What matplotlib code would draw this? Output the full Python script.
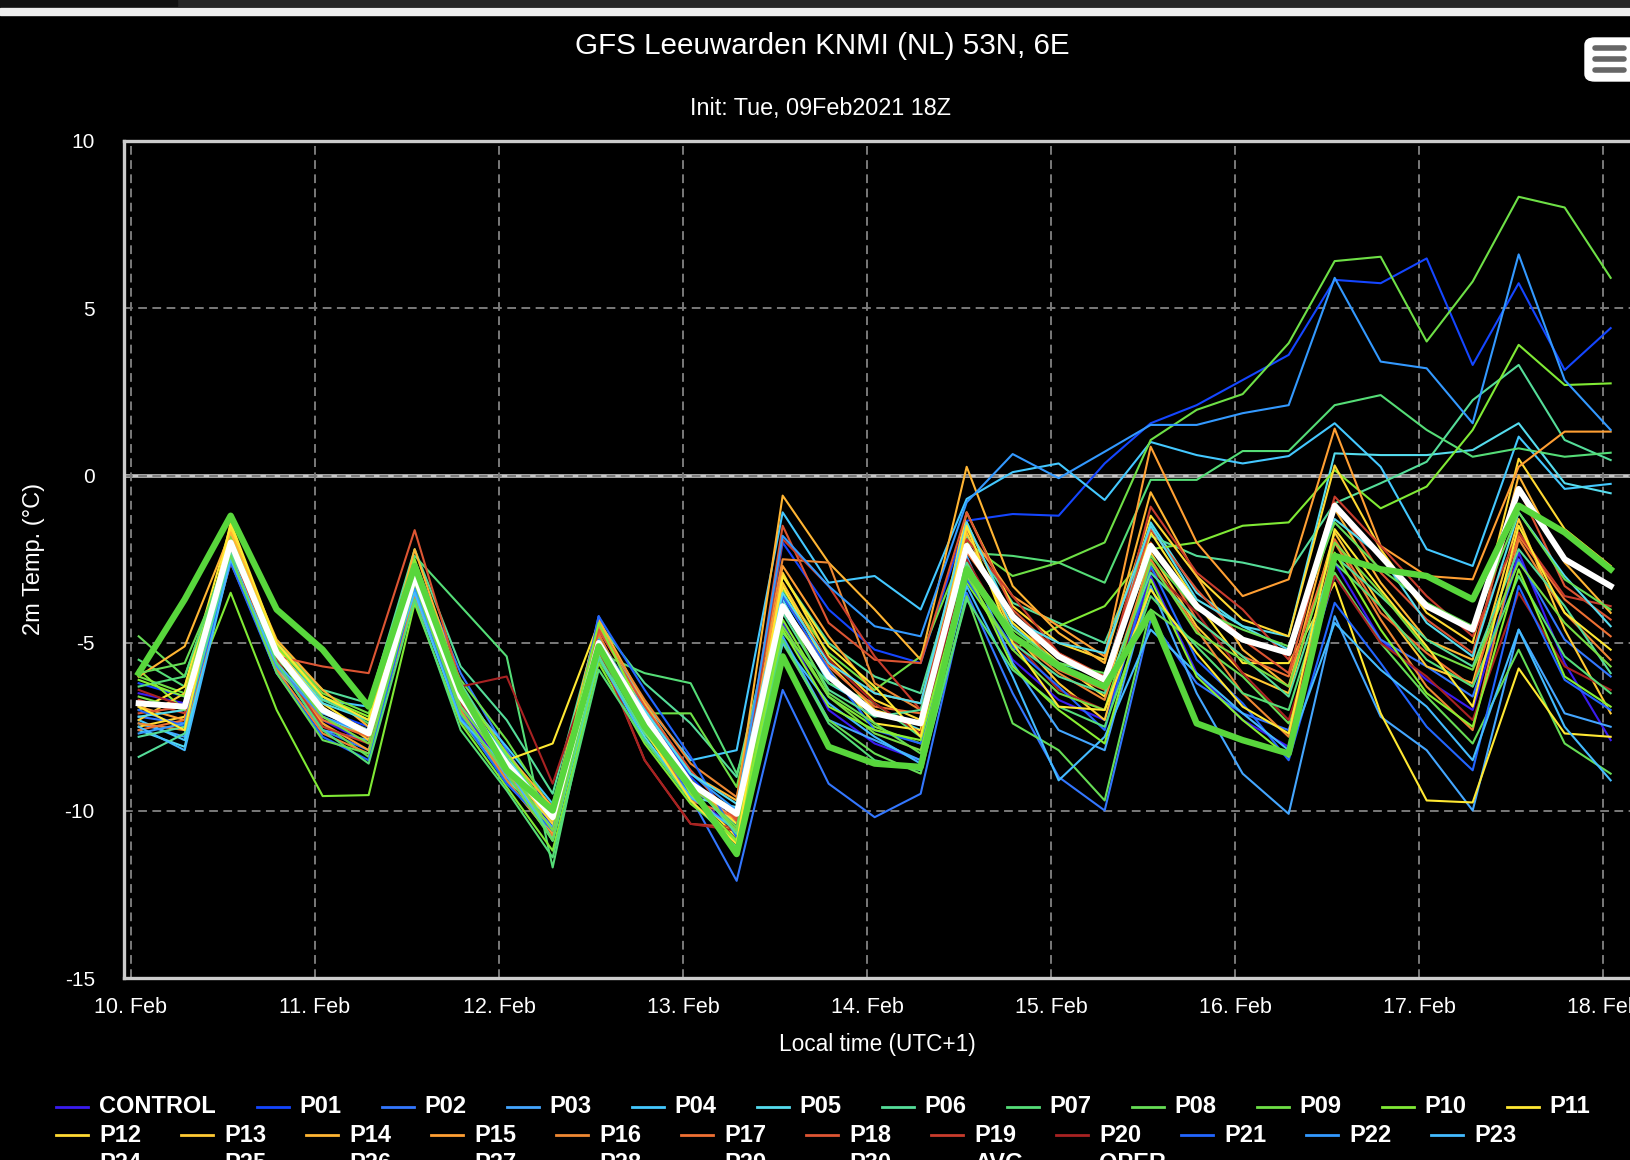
import numpy as np
import pandas as pd
import matplotlib
matplotlib.use("Agg")
import matplotlib.pyplot as plt
import matplotlib.dates as mdates
from matplotlib.lines import Line2D
from matplotlib.patches import Rectangle, FancyBboxPatch

# 6-hourly GFS ensemble steps, local time (UTC+1)
times = pd.date_range("2021-02-10 01:00", periods=33, freq="6h")

names = ["CONTROL"] + ["P%02d" % k for k in range(1, 31)]

CONTROL = [-6.5, -6.8, -2.3, -5.6, -7.3, -8.0, -3.2, -6.9, -8.9, -10.4, -4.8, -7.4, -9.5, -10.6, -4.4, -7.0, -8.0,
           -8.5, -2.9, -5.5, -6.7, -7.3, -3.0, -5.9, -7.3, -8.1, -2.6, -4.9, -6.1, -7.0, -2.3, -5.6, -7.9]
P01 = [-6.2, -6.6, -2.1, -5.4, -7.0, -7.5, -2.9, -6.5, -8.4, -10.0, -4.5, -7.0, -9.0, -10.4, -2.0, -4.0, -5.2,
       -5.6, -1.35, -1.15, -1.2, 0.36, 1.56, 2.1, 2.85, 3.6, 5.84, 5.74, 6.48, 3.3, 5.74, 3.15, 4.4]
P02 = [-7.2, -7.4, -2.5, -5.9, -7.6, -8.2, -2.6, -5.9, -8.2, -10.2, -4.2, -7.5, -9.6, -12.1, -6.4, -9.2, -10.2,
       -9.5, -3.5, -6.5, -9.0, -10.0, -4.3, -6.2, -7.1, -7.6, -3.0, -4.9, -5.7, -6.6, -2.5, -4.9, -6.0]
P03 = [-7.4, -7.8, -2.4, -5.6, -7.6, -7.9, -3.3, -7.0, -9.0, -10.5, -4.9, -7.6, -9.3, -10.4, -4.8, -7.3, -7.9,
       -8.5, -2.4, -5.6, -7.6, -8.2, -3.3, -6.5, -8.9, -10.1, -4.2, -7.2, -8.2, -10.0, -4.6, -7.1, -7.5]
P04 = [-7.3, -7.9, -2.2, -5.2, -6.7, -6.9, -3.4, -6.5, -8.1, -9.8, -4.6, -6.8, -8.5, -8.2, -1.1, -3.2, -3.0,
       -4.0, -0.7, 0.1, 0.36, -0.73, 1.0, 0.61, 0.36, 0.58, 1.56, 0.26, -2.2, -2.7, 1.16, -0.4, -0.25]
P05 = [-7.6, -8.1, -2.3, -5.8, -7.2, -7.8, -3.6, -7.2, -9.1, -10.3, -5.3, -7.8, -9.6, -9.9, -3.7, -6.2, -7.0,
       -7.6, -2.0, -4.5, -5.6, -6.0, -1.4, -3.5, -4.5, -4.8, 0.66, 0.61, 0.61, 0.76, 1.56, -0.23, -0.53]
P06 = [-8.4, -7.7, -2.2, -5.0, -6.4, -6.8, -2.2, -5.7, -7.3, -9.5, -4.4, -6.2, -7.4, -9.0, -3.0, -5.0, -6.0,
       -6.5, -1.8, -3.8, -4.4, -5.0, -1.8, -2.4, -2.6, -2.9, -0.83, -0.23, 0.41, 2.25, 3.3, 1.06, 0.46]
P07 = [-5.5, -6.3, -1.9, -5.5, -6.6, -7.4, -2.4, -3.9, -5.4, -11.7, -5.3, -5.9, -6.2, -8.9, -4.7, -6.2, -6.8,
       -7.8, -2.3, -2.4, -2.6, -3.2, -0.13, -0.13, 0.73, 0.73, 2.1, 2.4, 1.36, 0.56, 0.81, 0.56, 0.68]
P08 = [-4.8, -6.0, -2.1, -5.3, -7.4, -8.4, -3.4, -7.3, -9.1, -10.8, -5.5, -7.7, -9.4, -11.0, -5.0, -7.3, -8.3,
       -8.9, -3.6, -7.4, -8.2, -9.7, -4.0, -5.0, -6.0, -7.4, -2.9, -5.0, -6.6, -8.0, -5.2, -8.0, -8.9]
P09 = [-6.0, -6.5, -1.8, -5.0, -6.5, -7.1, -3.1, -6.1, -7.9, -10.0, -4.8, -7.1, -7.1, -9.3, -3.4, -5.3, -6.4,
       -5.4, -2.0, -3.0, -2.6, -2.0, 1.06, 1.96, 2.43, 3.95, 6.4, 6.53, 4.0, 5.79, 8.32, 8.0, 5.9]
P10 = [-5.8, -7.0, -3.5, -7.0, -9.57, -9.54, -3.82, -7.4, -9.3, -11.2, -5.6, -8.0, -9.8, -10.9, -4.3, -6.6, -7.5,
       -8.0, -3.2, -5.2, -4.5, -3.9, -2.2, -2.0, -1.5, -1.4, 0.16, -0.98, -0.33, 1.36, 3.9, 2.7, 2.75]
P11 = [-7.0, -6.3, -1.5, -5.2, -6.8, -7.7, -2.9, -6.9, -8.5, -8.0, -4.4, -7.1, -9.1, -10.4, -3.3, -5.8, -7.4,
       -7.6, -1.4, -4.4, -5.6, -6.6, -1.7, -3.8, -5.6, -5.6, -3.2, -7.1, -9.7, -9.76, -5.76, -7.7, -7.8]
P12 = [-7.5, -7.2, -1.6, -5.1, -7.0, -7.6, -2.6, -6.6, -8.7, -10.4, -5.3, -7.2, -9.4, -10.8, -2.9, -5.4, -6.7,
       -7.3, -1.1, -3.9, -5.0, -5.5, -1.2, -3.0, -4.3, -4.8, 0.3, -2.2, -4.1, -5.0, 0.5, -1.6, -2.7]
P13 = [-7.3, -6.5, -2.2, -5.4, -6.9, -7.9, -3.0, -6.8, -8.8, -10.6, -4.9, -7.3, -9.2, -10.0, -3.2, -5.6, -7.0,
       -7.4, -1.7, -4.7, -6.2, -7.3, -2.3, -4.5, -5.9, -6.5, -1.7, -3.9, -5.7, -6.2, -1.3, -4.6, -7.1]
P14 = [-6.0, -5.1, -1.7, -4.9, -6.4, -7.5, -2.2, -6.3, -8.3, -9.9, -4.3, -6.8, -8.9, -9.7, -0.6, -2.6, -4.0,
       -5.5, 0.26, -3.3, -4.7, -5.6, -0.5, -3.0, -5.2, -6.3, -1.0, -3.2, -4.9, -5.5, 0.0, -2.6, -4.1]
P15 = [-6.9, -7.3, -2.1, -5.7, -7.4, -8.2, -3.5, -7.1, -8.9, -10.7, -5.0, -7.4, -9.3, -10.3, -2.7, -4.8, -6.5,
       -6.8, -1.6, -3.6, -4.5, -5.4, 0.86, -2.0, -3.6, -3.1, 1.4, -2.1, -3.0, -3.1, 0.26, 1.31, 1.31]
P16 = [-7.4, -7.6, -2.6, -5.8, -7.7, -8.3, -3.6, -7.0, -9.1, -10.8, -4.5, -6.7, -8.6, -9.6, -2.5, -2.6, -6.2,
       -7.0, -2.6, -4.8, -5.9, -6.7, -2.5, -4.6, -6.5, -7.8, -2.0, -4.3, -6.3, -7.6, -1.9, -4.1, -5.5]
P17 = [-7.6, -7.3, -2.0, -5.6, -7.3, -7.8, -2.7, -6.6, -8.8, -10.1, -4.7, -7.5, -9.7, -10.2, -3.9, -5.7, -6.9,
       -7.1, -2.3, -4.1, -5.8, -6.4, -2.0, -4.3, -5.4, -6.0, -1.9, -4.1, -5.3, -6.3, -1.8, -3.7, -4.8]
P18 = [-7.1, -6.9, -1.9, -5.4, -5.7, -5.9, -1.63, -6.2, -8.7, -10.0, -4.6, -6.9, -8.8, -10.3, -1.5, -4.4, -5.5,
       -5.6, -1.1, -4.0, -5.3, -6.0, -1.6, -3.4, -4.9, -5.9, -0.8, -2.9, -4.3, -5.3, -0.4, -3.3, -4.3]
P19 = [-6.7, -7.1, -2.2, -5.5, -7.5, -8.0, -3.1, -6.8, -8.6, -10.3, -5.2, -8.5, -10.4, -10.5, -1.9, -3.3, -5.4,
       -7.0, -1.9, -3.6, -5.3, -6.2, -0.93, -2.9, -4.0, -5.5, -0.63, -2.1, -3.6, -4.8, -1.7, -3.6, -3.9]
P20 = [-6.4, -6.9, -2.0, -5.3, -7.1, -7.6, -3.0, -6.3, -6.0, -9.2, -5.1, -8.5, -10.4, -10.6, -3.6, -5.5, -6.8,
       -7.7, -2.5, -4.9, -6.4, -7.0, -2.8, -4.1, -5.9, -7.3, -3.0, -5.0, -6.0, -7.3, -3.5, -5.7, -6.4]
P21 = [-7.0, -7.5, -2.6, -5.9, -7.8, -8.5, -3.3, -7.2, -9.2, -10.6, -4.2, -6.4, -8.4, -10.8, -3.6, -5.8, -7.6,
       -8.0, -3.1, -5.1, -6.3, -7.6, -2.7, -5.5, -6.8, -8.5, -3.8, -5.6, -7.5, -8.8, -3.3, -6.1, -7.0]
P22 = [-7.7, -7.4, -2.4, -5.7, -7.2, -7.7, -3.4, -6.9, -8.5, -10.0, -4.9, -7.0, -8.9, -10.0, -1.8, -3.3, -4.5,
       -4.8, -0.8, 0.64, -0.08, 0.71, 1.51, 1.51, 1.86, 2.1, 5.9, 3.4, 3.2, 1.56, 6.6, 2.85, 1.36]
P23 = [-7.5, -8.2, -2.5, -5.6, -7.1, -7.6, -3.5, -7.3, -8.7, -10.9, -5.4, -7.9, -9.6, -10.6, -5.0, -6.8, -7.8,
       -8.6, -3.3, -6.0, -9.1, -7.8, -4.6, -5.9, -7.1, -8.2, -4.4, -5.8, -6.9, -8.5, -4.6, -7.5, -9.1]
P24 = [-7.2, -7.0, -2.1, -5.3, -6.8, -7.3, -3.0, -6.6, -8.4, -10.2, -5.0, -7.0, -8.9, -9.8, -3.5, -5.6, -6.5,
       -6.8, -1.4, -4.3, -5.0, -5.3, -1.5, -3.7, -4.5, -5.2, -1.3, -2.4, -4.4, -5.4, -1.1, -3.0, -4.5]
P25 = [-7.8, -7.5, -2.3, -5.0, -6.7, -7.3, -2.8, -6.2, -8.4, -10.9, -5.4, -7.7, -9.1, -10.7, -4.1, -6.4, -7.2,
       -7.0, -2.6, -5.0, -6.0, -6.5, -2.9, -4.3, -5.4, -6.6, -2.4, -3.6, -4.9, -5.7, -2.2, -3.9, -5.9]
P26 = [-6.3, -6.0, -2.0, -5.6, -7.6, -8.6, -3.7, -7.6, -9.4, -11.4, -5.8, -7.9, -9.7, -11.1, -4.9, -7.4, -8.5,
       -8.8, -3.7, -5.8, -6.9, -7.5, -3.6, -5.1, -6.5, -7.0, -2.6, -3.9, -5.5, -6.3, -3.0, -5.4, -6.5]
P27 = [-5.9, -5.6, -2.4, -5.9, -7.9, -8.3, -3.2, -7.1, -8.9, -10.9, -5.1, -7.5, -9.2, -10.5, -3.9, -6.5, -7.4,
       -8.3, -2.7, -4.6, -5.6, -5.9, -2.4, -4.0, -4.6, -5.1, -1.4, -2.8, -3.8, -4.5, -1.1, -3.1, -4.0]
P28 = [-6.6, -7.0, -2.1, -5.4, -7.2, -8.0, -3.2, -6.9, -8.7, -10.6, -5.0, -7.4, -9.1, -10.6, -4.5, -6.6, -7.7,
       -8.2, -3.0, -5.2, -6.5, -7.0, -2.6, -4.7, -5.5, -6.3, -2.0, -3.5, -5.2, -5.8, -2.6, -4.4, -5.7]
P29 = [-6.1, -6.6, -1.9, -5.1, -6.6, -7.2, -2.5, -6.4, -8.3, -10.1, -4.4, -7.2, -9.5, -10.9, -4.6, -6.9, -7.6,
       -7.9, -2.8, -5.7, -7.0, -8.0, -3.1, -6.0, -7.3, -8.4, -2.3, -4.6, -6.5, -7.5, -2.8, -6.0, -6.9]
P30 = [-6.9, -7.6, -1.4, -5.0, -6.6, -7.3, -2.8, -6.7, -8.5, -10.3, -5.0, -7.6, -9.7, -11.0, -3.0, -5.1, -6.3,
       -7.8, -1.5, -5.0, -6.9, -7.0, -3.4, -5.3, -6.9, -7.7, -1.6, -3.4, -5.1, -6.9, -1.5, -4.1, -5.2]

AVG = [-6.8, -6.9, -2.0, -5.3, -7.0, -7.7, -3.0, -6.6, -8.6, -10.2, -5.0, -7.2, -9.2, -10.1, -3.9, -6.0, -7.1,
       -7.4, -2.1, -4.2, -5.4, -6.1, -2.1, -3.9, -4.9, -5.3, -0.9, -2.4, -3.9, -4.6, -0.4, -2.5, -3.3]
OPER = [-5.9, -3.7, -1.2, -4.0, -5.2, -6.9, -2.7, -6.4, -8.8, -10.0, -5.1, -7.5, -9.3, -11.3, -5.4, -8.1, -8.6,
        -8.7, -2.8, -4.8, -5.7, -6.3, -4.1, -7.4, -7.9, -8.3, -2.4, -2.8, -3.0, -3.7, -0.9, -1.7, -2.8]

members = [CONTROL, P01, P02, P03, P04, P05, P06, P07, P08, P09, P10, P11, P12, P13, P14, P15,
           P16, P17, P18, P19, P20, P21, P22, P23, P24, P25, P26, P27, P28, P29, P30]

colors = ["#3a1cf0", "#1446ff", "#3377ff", "#44a6ff", "#44c8ff", "#55dcee", "#55dd99", "#55dd77",
          "#66dd55", "#6ee046", "#80ea35", "#ffe833", "#ffd933", "#ffc933", "#ffb533", "#ff9f33",
          "#ee8833", "#ee7033", "#dd5533", "#c83c2c", "#a82222", "#2266ff", "#3399ff", "#44bbff",
          "#55dcee", "#55dd99", "#55dd77", "#66dd55", "#77dd44", "#88ee33", "#ffe833"]
avg_color = "#ffffff"
oper_color = "#58d63c"

W, H = 1631, 1160
plt.rcParams["font.family"] = ["Liberation Sans", "DejaVu Sans"]
plt.rcParams["axes.unicode_minus"] = False

fig = plt.figure(figsize=(W / 100, H / 100), dpi=100, facecolor="black")


def fx(px):
    return px / W


def fy(py):
    return 1 - py / H


ax = fig.add_axes([fx(124), fy(978), fx(W - 124), fy(140.5) - fy(978)])
ax.set_facecolor("black")

for vals, col in zip(members, colors):
    ax.plot(times, vals, color=col, lw=1.5, zorder=2)
ax.plot(times, AVG, color=avg_color, lw=4.3, zorder=3, solid_joinstyle="round")
ax.plot(times, OPER, color=oper_color, lw=4.6, zorder=4, solid_joinstyle="round")

t0 = pd.Timestamp("2021-02-10 00:00")
day = pd.Timedelta(days=1)
ax.set_xlim(t0 - day * (7 / 184), t0 + day * ((W - 131) / 184))
ax.set_ylim(-15, 10)
ax.set_yticks(range(-15, 11, 5))
ax.xaxis.set_major_locator(mdates.DayLocator())
ax.xaxis.set_major_formatter(mdates.DateFormatter("%d. %b"))

ax.axhline(0, color="#c8c8c8", lw=2.6, zorder=0.4)
ax.set_axisbelow(True)
ax.grid(True, color="#7a7a7a", linestyle=(0, (4.5, 2.8)), lw=1.4)

for side in ["left", "top", "bottom"]:
    ax.spines[side].set_color("#cccccc")
    ax.spines[side].set_linewidth(2.4)
ax.spines["right"].set_visible(False)

ax.tick_params(axis="y", length=0, pad=21, labelsize=15, labelcolor="white")
ax.tick_params(axis="x", length=0, pad=14, labelsize=15.5, labelcolor="white")

ax.set_xlabel("Local time (UTC+1)", color="white", fontsize=16.3)
ax.xaxis.label.set_va("center")
ax.xaxis.set_label_coords(0.5, -(1045 - 978) / (978 - 140.5))
ax.set_ylabel("2m Temp. (°C)", color="white", fontsize=17)
ax.yaxis.label.set_va("center")
ax.yaxis.set_label_coords((34 - 124) / (W - 124), 0.5)

fig.text(fx(822), fy(46), "GFS Leeuwarden KNMI (NL) 53N, 6E", color="white", fontsize=21.3,
         ha="center", va="center")
fig.text(fx(821), fy(109), "Init: Tue, 09Feb2021 18Z", color="white", fontsize=16.8,
         ha="center", va="center")

# legend rows, laid out like the web chart (third row cut off at the bottom)
rows = [(names[:12], colors[:12]),
        (names[12:24], colors[12:24]),
        (names[24:] + ["AVG", "OPER"], colors[24:] + [avg_color, oper_color])]
row_y = [1106.5, 1135, 1163.5]
for (labels, cols), yy in zip(rows, row_y):
    x = 56
    for k, (lab, col) in enumerate(zip(labels, cols)):
        fig.add_artist(Line2D([fx(x), fx(x + 32)], [fy(yy), fy(yy)], color=col, lw=2.0))
        fig.text(fx(x + 43), fy(yy), lab, color="white", fontsize=17, fontweight="bold",
                 ha="left", va="center")
        x += 200.7 if (yy == row_y[0] and k == 0) else 125

# browser chrome at the top and the export menu button
fig.add_artist(Rectangle((0, fy(6)), 1, fy(0) - fy(6), color="#262626", transform=fig.transFigure))
fig.add_artist(Rectangle((0, fy(6)), fx(177), fy(0) - fy(6), color="#111111", transform=fig.transFigure))
fig.add_artist(Rectangle((0, fy(15)), 1, fy(8) - fy(15), color="#eeeeee", transform=fig.transFigure))
fig.add_artist(FancyBboxPatch((fx(1585), fy(81)), fx(60), fy(38) - fy(81),
                              boxstyle="round,pad=0,rounding_size=0.006", color="white",
                              transform=fig.transFigure))
for by in [48, 59, 70]:
    fig.add_artist(Line2D([fx(1595), fx(1624)], [fy(by), fy(by)], color="#666666", lw=4.0,
                          solid_capstyle="round"))

fig.savefig("out.png", dpi=100, facecolor="black")
